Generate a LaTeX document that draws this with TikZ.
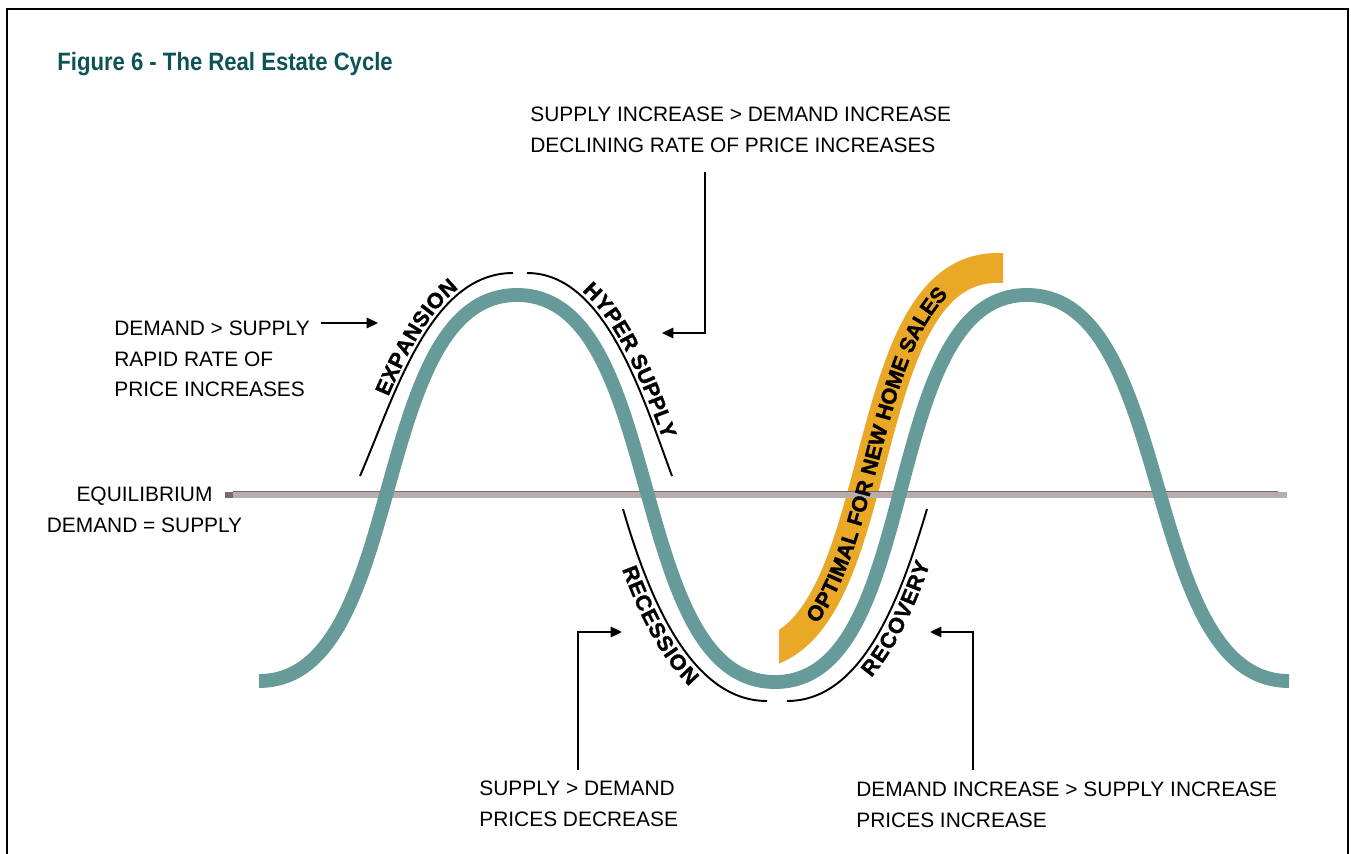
\documentclass[tikz,border=0pt]{standalone}
\usepackage{fontspec}
\setmainfont{Liberation Sans}
\newfontfamily\titlefont{Liberation Sans Bold}[FakeStretch=0.88]
\newfontfamily\arcfont{Liberation Sans Bold}[FakeStretch=1.02, FakeBold=1.4]
\usetikzlibrary{arrows.meta,decorations.text}

\definecolor{waveteal}{RGB}{103,155,154}
\definecolor{bandgold}{RGB}{233,168,38}
\definecolor{eqfill}{RGB}{186,172,172}
\definecolor{eqdark}{RGB}{118,106,106}
\definecolor{titleteal}{RGB}{13,82,88}
\newcommand{\arcstyle}{\arcfont\fontsize{12.2}{13}\selectfont}

\begin{document}
\begin{tikzpicture}[x=0.02cm, y=-0.02cm,
  note/.style={inner sep=0pt, align=left, font=\fontsize{11.9}{17.3}\selectfont},
  callout/.style={line width=1.1pt, -{Triangle[length=6.5pt, width=6pt]}},
  arcline/.style={line width=1.1pt},
  wave/.style={draw=waveteal, line width=7.9pt},
  band/.style={draw=bandgold, line width=17pt}]
  \useasboundingbox (0,0) rectangle (1351,854);
  % Frame
  \draw[line width=1.1pt] (7,854) -- (7,9) -- (1348,9) -- (1348,854);
  % Title
  \node[anchor=base west, inner sep=0pt, text=titleteal, font=\titlefont\fontsize{14.3}{16}\selectfont] (title) at (57,71) {Figure 6 - The Real Estate Cycle};
  % Optimal band
  \begin{scope}
    \clip (779,200) rectangle (1003,720);
    \draw[band] (745,655) .. controls (895,655) and (847,268) .. (997,268) -- (1012,268);
  \end{scope}
  % Equilibrium line
  \fill[eqfill] (225,491.5) rectangle (1287,497.5);
  \draw[eqdark, line width=0.5pt] (233,491.8) -- (1278,491.8);
  \fill[eqdark] (225,491.5) rectangle (233,497.5);
  % Cycle
  \draw[wave] (259,681) .. controls (409,681) and (367,295) .. (517,295)
    .. controls (667,295) and (625,682) .. (775,682)
    .. controls (925,682) and (877,295) .. (1027,295)
    .. controls (1177,295) and (1139,681) .. (1289,681);
  \path[decorate, decoration={text along path, text={|\arcstyle|OPTIMAL FOR NEW HOME SALES},
    raise=-0.15cm, text align={left indent=1.55cm}}]
    (745,655) .. controls (895,655) and (847,268) .. (997,268);
  % Phase arcs
  \draw[arcline, postaction={decorate, decoration={text along path, text={|\arcstyle|EXPANSION},
    raise=0.08cm, text align={left indent=1.68cm}}}]
    (360,476) .. controls (395,395) and (430,273) .. (513,273);
  \draw[arcline, postaction={decorate, decoration={text along path, text={|\arcstyle|HYPER SUPPLY},
    raise=0.08cm, text align={left indent=1.15cm}}}]
    (527,273) .. controls (605,273) and (642,395) .. (672,476);
  \draw[arcline, postaction={decorate, decoration={text along path, text={|\arcstyle|RECESSION},
    raise=-0.39cm, text align={left indent=1.12cm}}}]
    (623,509) .. controls (648,595) and (690,701) .. (767,701);
  \draw[arcline, postaction={decorate, decoration={text along path, text={|\arcstyle|RECOVERY},
    raise=-0.39cm, text align={left indent=1.6cm}}}]
    (787,701) .. controls (862,701) and (900,600) .. (927,509);
  % Nodes
  \node[note, anchor=north west] (hyperNote) at (530,107) {SUPPLY INCREASE > DEMAND INCREASE\\DECLINING RATE OF PRICE INCREASES};
  \node[note, anchor=north west] (expNote) at (114,321) {DEMAND > SUPPLY\\RAPID RATE OF\\PRICE INCREASES};
  \node[note, anchor=north, align=center] (eqNote) at (144.5,487) {EQUILIBRIUM\\DEMAND = SUPPLY};
  \node[note, anchor=north west] (recNote) at (479,781) {SUPPLY > DEMAND\\PRICES DECREASE};
  \node[note, anchor=north west] (recovNote) at (856,782) {DEMAND INCREASE > SUPPLY INCREASE\\PRICES INCREASE};
  % Arrows
  \coordinate (expTip) at (378,323);
  \coordinate (hyperTip) at (662,333);
  \coordinate (recTip) at (622,632);
  \coordinate (recovTip) at (930,632);
  \draw[callout] ([shift={(11,2)}]expNote.north east) -- (expTip);
  \draw[callout] ([shift={(175,19)}]hyperNote.south west) |- (hyperTip);
  \draw[callout] ([shift={(99,-11)}]recNote.north west) |- (recTip);
  \draw[callout] ([shift={(117,-12)}]recovNote.north west) |- (recovTip);
\end{tikzpicture}
\end{document}
